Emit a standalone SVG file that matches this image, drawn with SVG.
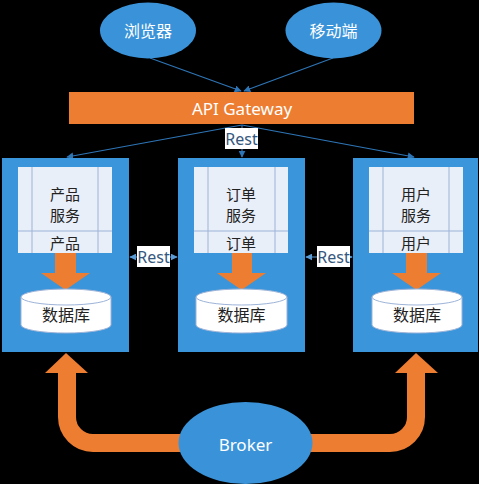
<svg xmlns="http://www.w3.org/2000/svg" width="479" height="484" viewBox="0 0 479 484">
<defs>
<style>
.bg{fill:#000}
.ell{fill:#3A93D8}
.box{fill:#3A95DA}
.panel{fill:#E9EFF8;stroke:none}
.pl{stroke:#9DB3D8;stroke-width:1;fill:none}
.wt{fill:#fff;font-family:"Noto Sans","Noto Sans CJK SC",sans-serif;font-size:16px;text-anchor:middle;dominant-baseline:central}
.dt{fill:#222;font-family:"Noto Sans CJK SC","Noto Sans",sans-serif;font-size:15px;text-anchor:middle;dominant-baseline:central}
.db{fill:#222;font-family:"Noto Sans CJK SC","Noto Sans",sans-serif;font-size:16px;text-anchor:middle;dominant-baseline:central}
.rest{fill:#35577E;font-family:"Noto Sans","Noto Sans CJK SC",sans-serif;font-size:16px;text-anchor:middle;dominant-baseline:central}
.ln{stroke:#2E75B6;stroke-width:1.2;fill:none}
.ln2{stroke:#5B9BD5;stroke-width:1.2;fill:none}
.or{fill:#ED7D31}
.ors{stroke:#ED7D31;stroke-width:18;fill:none}
.cyl{fill:#fff;stroke:#9DB3D8;stroke-width:1}
</style>
<marker id="ah" viewBox="0 0 10 10" refX="9" refY="5" markerWidth="7" markerHeight="7" orient="auto-start-reverse" markerUnits="userSpaceOnUse">
<path d="M0,0 L10,5 L0,10 z" fill="#2E75B6"/>
</marker>
<marker id="ah2" viewBox="0 0 10 10" refX="9" refY="5" markerWidth="7" markerHeight="7" orient="auto-start-reverse" markerUnits="userSpaceOnUse">
<path d="M0,0 L10,5 L0,10 z" fill="#5B9BD5"/>
</marker>
</defs>
<rect class="bg" x="0" y="0" width="479" height="484"/>

<g id="connectors">
<line class="ln" x1="150" y1="58" x2="241" y2="91" marker-end="url(#ah)"/>
<line class="ln" x1="333" y1="58" x2="244" y2="91" marker-end="url(#ah)"/>
<line class="ln" x1="242" y1="125" x2="67" y2="157" marker-end="url(#ah)"/>
<line class="ln" x1="242" y1="125" x2="242" y2="157" marker-end="url(#ah)"/>
<line class="ln" x1="242" y1="125" x2="414" y2="157" marker-end="url(#ah)"/>
<line class="ln2" x1="130" y1="257" x2="177" y2="257" marker-start="url(#ah2)" marker-end="url(#ah2)"/>
<line class="ln2" x1="306" y1="257" x2="352" y2="257" marker-start="url(#ah2)" marker-end="url(#ah2)"/>
<path class="ors" d="M182 443 H93 A26 26 0 0 1 67 417 V371"/>
<polygon class="or" points="45,373 88,373 66,353"/>
<path class="ors" d="M310 443 H390 A26 26 0 0 0 416 417 V371"/>
<polygon class="or" points="395,373 438,373 416,353"/>
</g>

<g id="browser">
<ellipse class="ell" cx="148" cy="30.5" rx="48" ry="28"/>
<text class="wt" x="148" y="31">浏览器</text>
</g>
<g id="mobile">
<ellipse class="ell" cx="333.5" cy="30.5" rx="48" ry="28"/>
<text class="wt" x="333.5" y="31">移动端</text>
</g>

<g id="gateway">
<rect class="or" x="69" y="92" width="345" height="32"/>
<text class="wt" x="242" y="108" style="font-size:17px">API Gateway</text>
</g>

<g id="rest-top">
<rect fill="#fff" x="225" y="128" width="33" height="21"/>
<text class="rest" x="241.5" y="138.5">Rest</text>
</g>

<g id="product">
<rect class="box" x="2" y="158" width="127" height="194"/>
<rect class="panel" x="18" y="167" width="94" height="86"/>
<path class="pl" d="M32 167 V253 M98 167 V253 M18 231 H112"/>
<text class="dt" x="65" y="193">产品</text>
<text class="dt" x="65" y="214">服务</text>
<text class="dt" x="65" y="242">产品</text>
<path class="or" d="M55 253 H76 V273 H90 L65.5 290 L41 273 H55 Z"/>
<path class="cyl" d="M21 297 V325 A45 8 0 0 0 111 325 V297"/>
<ellipse class="cyl" cx="66" cy="297" rx="45" ry="8"/>
<text class="db" x="66" y="314">数据库</text>
</g>

<g id="order">
<rect class="box" x="178" y="158" width="127" height="194"/>
<rect class="panel" x="194" y="167" width="94" height="86"/>
<path class="pl" d="M208 167 V253 M275 167 V253 M194 231 H288"/>
<text class="dt" x="241" y="193">订单</text>
<text class="dt" x="241" y="214">服务</text>
<text class="dt" x="241" y="242">订单</text>
<path class="or" d="M232 253 H252 V273 H266 L241.5 290 L217 273 H232 Z"/>
<path class="cyl" d="M196 297 V325 A45.5 8 0 0 0 287 325 V297"/>
<ellipse class="cyl" cx="241.5" cy="297" rx="45.5" ry="8"/>
<text class="db" x="241.5" y="314">数据库</text>
</g>

<g id="user">
<rect class="box" x="353" y="158" width="125" height="194"/>
<rect class="panel" x="369" y="167" width="94" height="86"/>
<path class="pl" d="M383 167 V253 M449 167 V253 M369 231 H463"/>
<text class="dt" x="416" y="193">用户</text>
<text class="dt" x="416" y="214">服务</text>
<text class="dt" x="416" y="242">用户</text>
<path class="or" d="M406 253 H427 V273 H441 L416.5 290 L392 273 H406 Z"/>
<path class="cyl" d="M372 297 V325 A45 8 0 0 0 462 325 V297"/>
<ellipse class="cyl" cx="417" cy="297" rx="45" ry="8"/>
<text class="db" x="417" y="314">数据库</text>
</g>

<g id="rest-left">
<rect fill="#fff" x="137" y="246" width="33" height="21"/>
<text class="rest" x="153.5" y="256.5">Rest</text>
</g>
<g id="rest-right">
<rect fill="#fff" x="317" y="246" width="33" height="21"/>
<text class="rest" x="333.5" y="256.5">Rest</text>
</g>

<g id="broker">
<ellipse class="ell" cx="245.5" cy="443" rx="67" ry="41"/>
<text class="wt" x="245.5" y="444" style="font-size:17px">Broker</text>
</g>
</svg>
